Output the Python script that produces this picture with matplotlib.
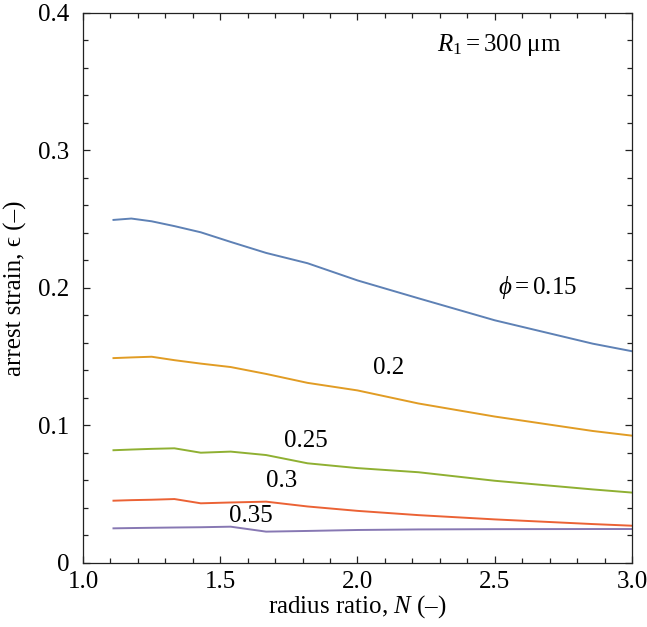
import numpy as np
import matplotlib
matplotlib.use("Agg")
import matplotlib.pyplot as plt
from matplotlib.ticker import MultipleLocator

plt.rcParams['font.family'] = ['Liberation Serif', 'DejaVu Serif']
plt.rcParams['mathtext.fontset'] = 'custom'
plt.rcParams['mathtext.rm'] = 'Liberation Serif'
plt.rcParams['mathtext.it'] = 'Liberation Serif:italic'

# radius ratio grid
N = [1.111, 1.176, 1.25, 1.333, 1.429, 1.538, 1.667, 1.818, 2.0, 2.222, 2.5, 2.857, 3.0]

# arrest strain for each porosity
eps_015 = [0.2495, 0.2505, 0.2485, 0.245, 0.2405, 0.2335, 0.2255, 0.218, 0.2055, 0.1925, 0.1765, 0.1595, 0.154]
eps_020 = [0.149, 0.1495, 0.150, 0.1475, 0.145, 0.1425, 0.1375, 0.131, 0.1255, 0.116, 0.1065, 0.096, 0.0926]
eps_025 = [0.082, 0.0825, 0.083, 0.0834, 0.0802, 0.081, 0.0785, 0.0725, 0.069, 0.066, 0.0598, 0.0535, 0.0512]
eps_030 = [0.0453, 0.0457, 0.046, 0.0465, 0.0434, 0.044, 0.0446, 0.0411, 0.0379, 0.0348, 0.0317, 0.0283, 0.0271]
eps_035 = [0.0252, 0.0254, 0.0256, 0.0258, 0.026, 0.0264, 0.0228, 0.0233, 0.024, 0.0244, 0.0246, 0.0247, 0.0247]

series = [eps_015, eps_020, eps_025, eps_030, eps_035]
colors = ['#5E81B5', '#E19C24', '#8FB032', '#EB6235', '#8778B3']
labels = [r'$\phi = 0.15$', '0.2', '0.25', '0.3', '0.35']
label_pos = [(2.654, 0.200), (2.115, 0.1418), (1.812, 0.0887), (1.725, 0.0596), (1.612, 0.0342)]

fig = plt.figure(figsize=(6.47, 6.27), dpi=100)
ax = fig.add_axes([0.1283, 0.1021, 0.8485, 0.8772])

for y, c in zip(series, colors):
    ax.plot(N, y, color=c, lw=1.4)

for lab, (x, y) in zip(labels, label_pos):
    ax.text(x, y, lab, fontsize=18, ha='center', va='center')

ax.text(2.74, 0.3767, r'$R_1 = 300\ \mathrm{\mu m}$', fontsize=18, ha='right', va='center')

ax.set_xlim(1.0, 3.0)
ax.set_ylim(0, 0.4)
ax.set_xticks([1.0, 1.5, 2.0, 2.5, 3.0])
ax.set_xticklabels(['1.0', '1.5', '2.0', '2.5', '3.0'])
ax.set_yticks([0, 0.1, 0.2, 0.3, 0.4])
ax.set_yticklabels(['0', '0.1', '0.2', '0.3', '0.4'])
ax.xaxis.set_minor_locator(MultipleLocator(0.1))
ax.yaxis.set_minor_locator(MultipleLocator(0.02))
ax.tick_params(which='both', direction='in', top=True, right=True, labelsize=18, width=0.9, colors='#222222', labelcolor='black')
ax.tick_params(axis='x', pad=6)
ax.tick_params(axis='y', pad=10)
ax.tick_params(which='major', length=5)
ax.tick_params(which='minor', length=3.5)
for s in ax.spines.values():
    s.set_color('#222222')
    s.set_linewidth(0.9)

ax.set_xlabel('radius ratio, $N$ (\u2013)', fontsize=18, labelpad=0)
ax.set_ylabel('arrest strain, \u03f5 (\u2013)', fontsize=18, labelpad=8)

fig.savefig('out.png', dpi=100)
